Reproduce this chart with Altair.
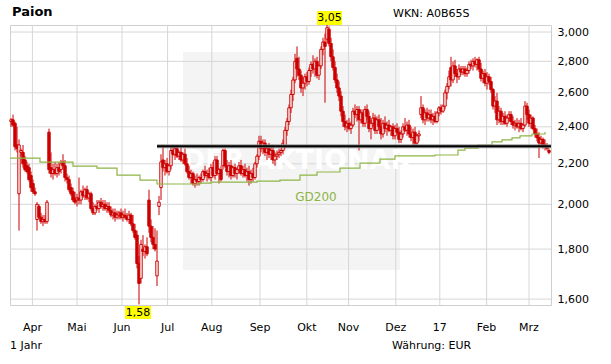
import altair as alt
import pandas as pd

# ---------------- data (EUR, one candle per trading day) ----------------
opens = [2.43,2.44,2.42,2.30,2.05,2.26,2.26,2.22,2.19,2.18,2.14,2.10,2.06,1.93,1.99,1.94,1.92,1.93,1.92,2.37,
         2.18,2.15,2.17,2.15,2.18,2.17,2.21,2.19,2.13,2.12,2.08,2.06,2.03,2.02,2.03,2.02,2.06,2.04,2.07,2.03,
         2.05,1.98,1.96,1.99,1.98,2.01,1.99,2.00,1.98,1.99,1.97,1.95,1.96,1.94,1.95,1.96,1.94,1.95,1.94,1.93,
         1.95,1.91,1.88,1.86,1.74,1.68,1.80,1.79,1.81,2.02,1.90,1.85,1.82,1.69,1.99,2.08,2.22,2.18,2.20,2.16,
         2.19,2.27,2.25,2.28,2.24,2.26,2.22,2.25,2.20,2.16,2.13,2.15,2.10,2.12,2.11,2.13,2.12,2.16,2.14,2.15,
         2.13,2.18,2.14,2.22,2.15,2.17,2.19,2.27,2.19,2.16,2.19,2.14,2.18,2.15,2.17,2.19,2.15,2.17,2.14,2.16,
         2.12,2.15,2.13,2.20,2.24,2.32,2.28,2.31,2.26,2.28,2.25,2.27,2.22,2.24,2.25,2.26,2.27,2.29,2.38,2.43,
         2.51,2.59,2.68,2.82,2.75,2.71,2.63,2.66,2.70,2.67,2.74,2.78,2.75,2.80,2.71,2.77,2.88,2.93,2.95,3.02,
         2.92,2.83,2.76,2.68,2.63,2.58,2.49,2.43,2.40,2.42,2.39,2.41,2.49,2.47,2.50,2.44,2.48,2.42,2.50,2.46,
         2.39,2.42,2.45,2.38,2.44,2.40,2.36,2.42,2.39,2.41,2.38,2.40,2.35,2.39,2.37,2.33,2.36,2.40,2.38,2.41,
         2.36,2.34,2.37,2.31,2.35,2.47,2.51,2.44,2.48,2.45,2.47,2.44,2.46,2.43,2.48,2.51,2.49,2.52,2.60,2.64,
         2.76,2.68,2.77,2.72,2.70,2.75,2.73,2.75,2.72,2.74,2.78,2.77,2.80,2.78,2.81,2.75,2.69,2.72,2.66,2.70,
         2.67,2.62,2.52,2.55,2.44,2.49,2.43,2.46,2.42,2.45,2.47,2.43,2.41,2.42,2.40,2.42,2.39,2.41,2.52,2.47,
         2.42,2.45,2.39,2.36,2.34,2.31,2.33,2.30,2.29,2.27]
highs = [2.45,2.47,2.43,2.40,2.33,2.28,2.30,2.24,2.21,2.20,2.16,2.12,2.08,2.01,2.00,1.96,1.95,1.95,2.02,2.39,
         2.26,2.20,2.21,2.20,2.21,2.22,2.25,2.22,2.15,2.14,2.10,2.08,2.06,2.05,2.13,2.07,2.09,2.08,2.09,2.06,
         2.06,2.01,2.00,2.02,2.02,2.03,2.02,2.02,2.01,2.01,1.99,1.98,1.98,1.97,1.97,1.98,1.97,1.98,1.96,1.97,
         1.96,1.95,1.91,1.88,1.77,1.84,1.86,1.82,1.85,2.07,1.93,1.90,1.89,1.88,2.04,2.25,2.30,2.22,2.23,2.20,
         2.29,2.30,2.29,2.30,2.27,2.29,2.26,2.28,2.23,2.19,2.17,2.16,2.14,2.15,2.14,2.15,2.17,2.19,2.17,2.18,
         2.20,2.21,2.24,2.24,2.18,2.19,2.28,2.28,2.22,2.21,2.22,2.19,2.20,2.18,2.21,2.22,2.19,2.20,2.18,2.19,
         2.17,2.18,2.21,2.25,2.35,2.35,2.33,2.33,2.30,2.31,2.29,2.30,2.26,2.27,2.28,2.28,2.33,2.40,2.45,2.53,
         2.62,2.70,2.85,2.90,2.83,2.74,2.70,2.72,2.73,2.76,2.80,2.84,2.82,2.83,2.78,2.90,2.96,2.99,3.05,3.04,
         2.96,2.88,2.80,2.72,2.67,2.61,2.52,2.47,2.44,2.45,2.43,2.51,2.53,2.52,2.52,2.50,2.50,2.52,2.53,2.49,
         2.44,2.48,2.47,2.46,2.47,2.45,2.44,2.46,2.43,2.44,2.41,2.42,2.41,2.42,2.40,2.38,2.42,2.45,2.43,2.44,
         2.40,2.39,2.40,2.36,2.38,2.58,2.53,2.50,2.51,2.50,2.50,2.48,2.49,2.49,2.52,2.53,2.53,2.62,2.66,2.74,
         2.83,2.80,2.81,2.75,2.78,2.77,2.77,2.77,2.76,2.80,2.81,2.82,2.83,2.82,2.83,2.79,2.74,2.75,2.73,2.72,
         2.70,2.63,2.58,2.60,2.52,2.51,2.48,2.49,2.47,2.49,2.49,2.46,2.44,2.45,2.44,2.45,2.42,2.55,2.54,2.50,
         2.47,2.46,2.41,2.39,2.37,2.35,2.34,2.33,2.31,2.28]
lows = [2.40,2.40,2.27,2.26,1.88,2.24,2.18,2.16,2.15,2.11,2.06,2.05,2.04,1.88,1.93,1.91,1.90,1.91,1.91,2.15,
        2.13,2.12,2.14,2.13,2.14,2.15,2.17,2.11,2.10,2.06,2.04,2.01,2.00,1.99,2.00,2.00,2.03,2.02,2.02,2.01,
        1.97,1.95,1.95,1.97,1.96,1.98,1.97,1.97,1.96,1.96,1.94,1.93,1.92,1.93,1.93,1.93,1.92,1.93,1.92,1.91,
        1.90,1.87,1.84,1.72,1.58,1.66,1.77,1.76,1.77,1.87,1.83,1.80,1.79,1.65,1.95,2.02,2.16,2.14,2.15,2.14,
        2.17,2.24,2.22,2.23,2.22,2.21,2.20,2.19,2.15,2.12,2.10,2.09,2.08,2.09,2.09,2.10,2.11,2.13,2.11,2.12,
        2.11,2.13,2.12,2.14,2.10,2.11,2.17,2.18,2.14,2.13,2.12,2.13,2.13,2.12,2.15,2.14,2.13,2.13,2.11,2.09,
        2.10,2.11,2.12,2.18,2.22,2.26,2.25,2.24,2.22,2.23,2.22,2.20,2.19,2.22,2.23,2.24,2.25,2.28,2.35,2.41,
        2.48,2.55,2.66,2.70,2.68,2.60,2.58,2.62,2.64,2.65,2.70,2.72,2.70,2.69,2.68,2.75,2.84,2.54,2.93,2.90,
        2.80,2.74,2.66,2.60,2.55,2.46,2.40,2.38,2.37,2.38,2.36,2.40,2.45,2.43,2.27,2.42,2.40,2.40,2.44,2.37,
        2.33,2.40,2.36,2.36,2.38,2.33,2.34,2.37,2.35,2.37,2.35,2.33,2.33,2.36,2.31,2.31,2.34,2.37,2.35,2.34,
        2.32,2.30,2.29,2.30,2.32,2.45,2.42,2.41,2.43,2.43,2.42,2.41,2.42,2.42,2.46,2.47,2.48,2.50,2.56,2.62,
        2.64,2.66,2.70,2.66,2.68,2.71,2.71,2.70,2.70,2.72,2.75,2.74,2.76,2.74,2.73,2.67,2.66,2.64,2.62,2.65,
        2.60,2.50,2.48,2.41,2.42,2.41,2.41,2.41,2.40,2.43,2.41,2.39,2.38,2.39,2.37,2.38,2.37,2.40,2.44,2.40,
        2.39,2.38,2.34,2.32,2.23,2.29,2.28,2.27,2.27,2.25]
closes = [2.44,2.41,2.29,2.28,2.30,2.27,2.20,2.17,2.16,2.12,2.08,2.06,2.05,2.00,1.94,1.92,1.93,1.92,2.01,2.17,
          2.15,2.17,2.15,2.18,2.16,2.20,2.19,2.13,2.12,2.07,2.05,2.02,2.01,2.03,2.02,2.06,2.04,2.07,2.03,2.05,
          1.98,1.96,1.99,1.98,2.01,1.99,2.00,1.98,1.99,1.97,1.95,1.96,1.94,1.95,1.96,1.94,1.95,1.94,1.93,1.95,
          1.91,1.88,1.85,1.74,1.66,1.82,1.79,1.81,1.78,1.90,1.85,1.82,1.80,1.75,2.01,2.21,2.18,2.20,2.16,2.19,
          2.27,2.25,2.28,2.24,2.26,2.22,2.25,2.20,2.16,2.13,2.15,2.10,2.12,2.11,2.13,2.12,2.16,2.14,2.15,2.13,
          2.18,2.14,2.22,2.15,2.17,2.12,2.27,2.19,2.16,2.19,2.14,2.18,2.15,2.17,2.19,2.15,2.17,2.14,2.16,2.12,
          2.15,2.13,2.20,2.24,2.32,2.28,2.31,2.26,2.28,2.25,2.27,2.22,2.24,2.25,2.26,2.27,2.31,2.38,2.43,2.51,
          2.59,2.68,2.80,2.75,2.71,2.63,2.66,2.70,2.67,2.74,2.78,2.75,2.80,2.71,2.77,2.88,2.93,2.90,3.03,2.92,
          2.83,2.76,2.68,2.63,2.58,2.49,2.43,2.40,2.42,2.39,2.41,2.49,2.47,2.50,2.44,2.48,2.42,2.50,2.46,2.39,
          2.42,2.45,2.38,2.44,2.40,2.36,2.42,2.39,2.41,2.38,2.40,2.35,2.39,2.37,2.33,2.36,2.40,2.38,2.41,2.36,
          2.34,2.37,2.31,2.35,2.36,2.51,2.44,2.48,2.45,2.47,2.44,2.46,2.43,2.48,2.51,2.49,2.52,2.60,2.64,2.70,
          2.68,2.77,2.72,2.70,2.75,2.73,2.75,2.72,2.74,2.78,2.77,2.80,2.78,2.81,2.75,2.69,2.72,2.66,2.70,2.67,
          2.62,2.52,2.55,2.44,2.49,2.43,2.46,2.42,2.45,2.47,2.43,2.41,2.42,2.40,2.42,2.39,2.41,2.52,2.47,2.42,
          2.45,2.39,2.36,2.34,2.31,2.33,2.30,2.29,2.28,2.26]

# 200-day average (GD200), read at points along the line
gd200_pos = [0.5, 7, 15.5, 32, 44, 54, 65.5, 74, 95.5, 101, 124, 135.5, 145.5, 154, 165.5, 175.5,
             185.5, 193, 213, 224.5, 228, 234.5, 241.5, 246.5, 251.5, 255.5, 261.5, 268]
gd200_val = [2.230, 2.230, 2.209, 2.188, 2.178, 2.142, 2.117, 2.098, 2.102, 2.107, 2.112, 2.117, 2.142,
             2.158, 2.178, 2.204, 2.224, 2.241, 2.246, 2.272, 2.283, 2.299, 2.316, 2.327, 2.338, 2.349,
             2.360, 2.371]

month_pos = [11.7, 34, 56.5, 79.3, 101.4, 125.5, 148.9, 169.8, 193.4, 215.4, 238.8, 260]
month_labels = ["Apr", "Mai", "Jun", "Jul", "Aug", "Sep", "Okt", "Nov", "Dez", "17", "Feb", "Mrz"]
y_ticks = [1.6, 1.8, 2.0, 2.2, 2.4, 2.6, 2.8, 3.0]
support_level = [2.293]
support_from = [74]
support_to = [271]

# ---------------- styling ----------------
W, H = 541, 280
RED = "#cc0000"
GRID = "#d6d6d6"
GREEN = "#8db544"
FONT = "DejaVu Sans"

xscale = alt.Scale(domain=[0.5, 271], nice=False, zero=False, padding=0)
yscale = alt.Scale(type="log", domain=[1.578, 3.05], nice=False, zero=False, padding=0)
yaxis = alt.Axis(orient="right", values=y_ticks, grid=False, ticks=False, domain=False,
                 labelExpr="replace(format(datum.value, '.3f'), '.', ',')",
                 labelFont=FONT, labelFontSize=11, labelColor="#000", labelPadding=6, title=None)

candles = pd.DataFrame({"idx": list(range(1, len(opens) + 1)), "open": opens, "high": highs,
                        "low": lows, "close": closes})
months = pd.DataFrame({"idx": month_pos, "label": month_labels})
gd = pd.DataFrame({"idx": gd200_pos, "v": gd200_val})
ygrid = pd.DataFrame({"v": y_ticks})
sup = pd.DataFrame({"a": support_from, "b": support_to, "v": support_level})
one = pd.DataFrame({"k": [0]})


def txt(text, x, y, **kw):
    return alt.Chart(pd.DataFrame({"t": [text]})).mark_text(font=FONT, **kw).encode(
        x=alt.value(x), y=alt.value(y), text="t:N")


watermark = alt.Chart(one).mark_rect(color="#f4f4f4").encode(
    x=alt.value(173), x2=alt.value(390), y=alt.value(27), y2=alt.value(245))
watermark_txt = txt("DER AKTIONÄR", 287, 136, fontSize=27, fontWeight="bold", color="white",
                    align="center", baseline="middle")

hgrid = alt.Chart(ygrid).mark_rule(color=GRID, strokeWidth=1).encode(
    y=alt.Y("v:Q", scale=yscale, axis=yaxis))
vgrid = alt.Chart(months).mark_rule(color=GRID, strokeWidth=1).encode(
    x=alt.X("idx:Q", scale=xscale, axis=None))

wicks = alt.Chart(candles).mark_rule(color=RED, strokeWidth=1).encode(
    x=alt.X("idx:Q", scale=xscale, axis=None),
    y=alt.Y("low:Q", scale=yscale, axis=yaxis),
    y2="high:Q")
bodies = alt.Chart(candles).mark_bar(size=2.4, stroke=RED, strokeWidth=1).encode(
    x=alt.X("idx:Q", scale=xscale, axis=None),
    y=alt.Y("open:Q", scale=yscale, axis=yaxis),
    y2="close:Q",
    fill=alt.condition("datum.close >= datum.open", alt.value("white"), alt.value(RED)))

gd_line = alt.Chart(gd).mark_line(color=GREEN, strokeWidth=1.2, interpolate="step-after").encode(
    x=alt.X("idx:Q", scale=xscale, axis=None),
    y=alt.Y("v:Q", scale=yscale, axis=yaxis))

sup_shadow = alt.Chart(sup).mark_rule(color="#8a8a8a", strokeWidth=4, opacity=0.8).encode(
    x=alt.X("a:Q", scale=xscale, axis=None), x2="b:Q",
    y=alt.Y("v:Q", scale=yscale, axis=yaxis))
sup_line = alt.Chart(sup).mark_rule(color="#000", strokeWidth=2).encode(
    x=alt.X("a:Q", scale=xscale, axis=None), x2="b:Q",
    y=alt.Y("v:Q", scale=yscale, axis=yaxis))

month_txt = alt.Chart(months).mark_text(font=FONT, fontSize=11, color="#000", baseline="middle").encode(
    x=alt.X("idx:Q", scale=xscale, axis=None), y=alt.value(303), text="label:N")

gd_label = txt("GD200", 306, 172, fontSize=12, color=GREEN, align="center", baseline="middle")

hi_box = alt.Chart(one).mark_rect(color="#ffff00").encode(
    x=alt.value(307), x2=alt.value(332), y=alt.value(-14), y2=alt.value(0))
hi_txt = txt("3,05", 319.5, -7, fontSize=11, color="#000", align="center", baseline="middle")
lo_box = alt.Chart(one).mark_rect(color="#ffff00").encode(
    x=alt.value(115), x2=alt.value(141), y=alt.value(281), y2=alt.value(294))
lo_txt = txt("1,58", 128, 287.5, fontSize=11, color="#000", align="center", baseline="middle")

title = txt("Paion", 2, -13, fontSize=13, fontWeight="bold", color="#000", align="left", baseline="middle")
wkn = txt("WKN: A0B65S", 383, -11, fontSize=11, color="#000", align="left", baseline="middle")
period = txt("1 Jahr", 0, 321, fontSize=11, color="#000", align="left", baseline="middle")
curr = txt("Währung: EUR", 382, 321, fontSize=11, color="#000", align="left", baseline="middle")

chart = alt.layer(
    watermark, hgrid, vgrid, watermark_txt, wicks, bodies, gd_line, sup_shadow, sup_line,
    month_txt, gd_label, hi_box, hi_txt, lo_box, lo_txt, title, wkn, period, curr
).properties(
    width=W, height=H, autosize="none",
    padding={"left": 10, "top": 25, "right": 60, "bottom": 59},
    background="white"
).configure_view(stroke="#cfcfcf", strokeWidth=1)

chart.save("out.html", embed_options={"renderer": "svg", "actions": False})
